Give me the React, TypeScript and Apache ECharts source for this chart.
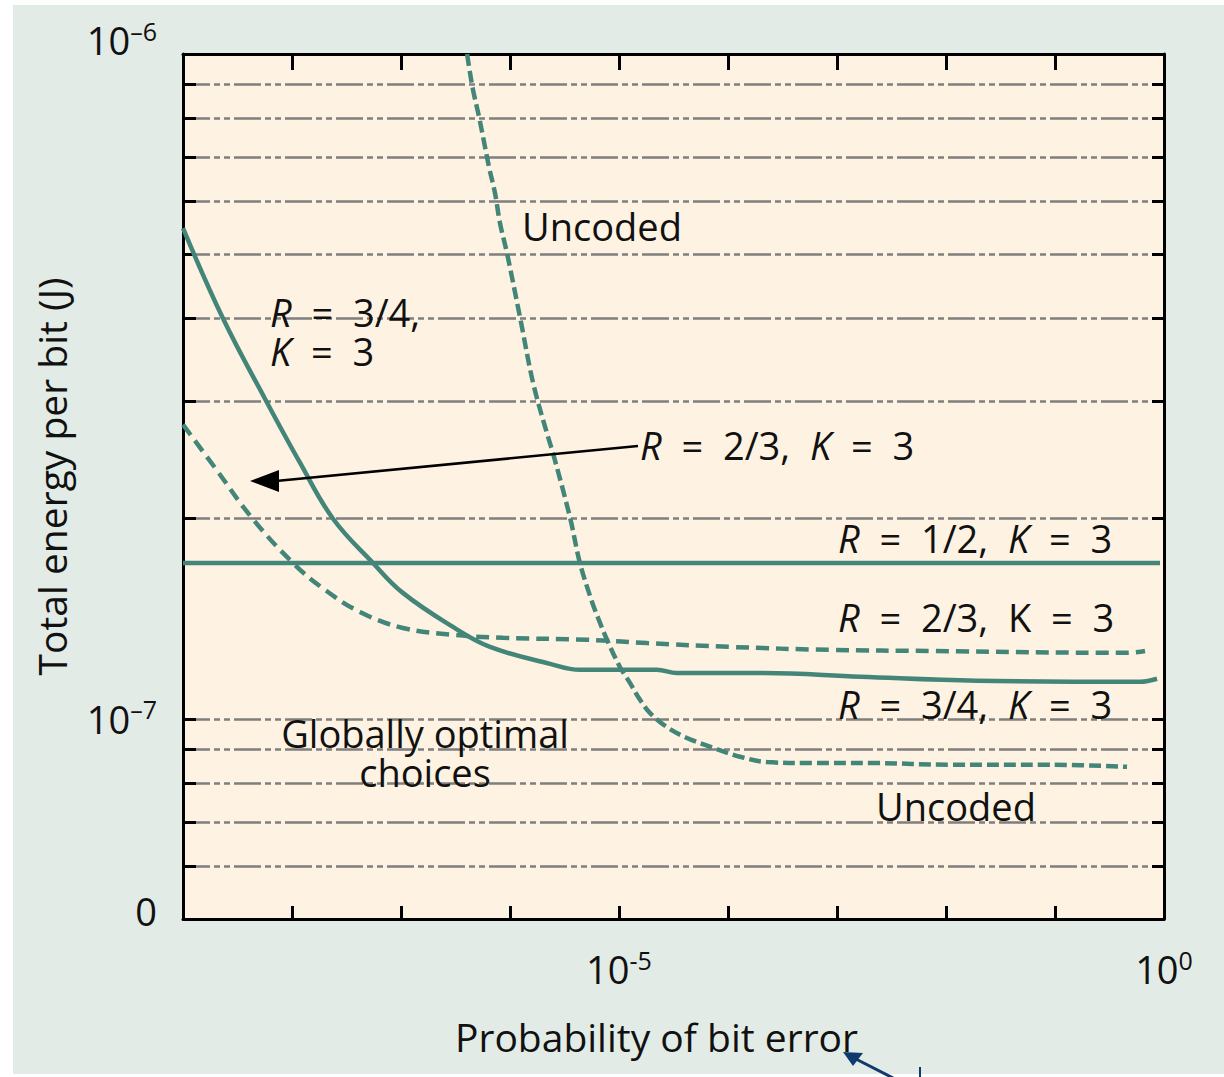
import React, { useEffect, useRef } from "react";
import * as echarts from "echarts";

// ---- data ----
const uncodedP = [4.04e-7, 4.3e-7, 4.58e-7, 5.2e-7, 5.9e-7, 6.42e-7, 7.28e-7, 8.09e-7, 9.38e-7, 1.235e-6, 1.63e-6, 2.18e-6, 2.48e-6, 3.55e-6, 4.38e-6, 5.65e-6, 6.41e-6, 7.76e-6, 1.02e-5, 1.26e-5, 1.56e-5, 1.92e-5, 2.75e-5, 4.2e-5, 7.3e-5, 1.29e-4, 2.28e-4, 6.0e-4, 2.14e-3, 1.09e-2, 9.0e-2, 0.458];
const uncodedE = [1.0e-6, 9.36e-7, 8.83e-7, 8.04e-7, 7.25e-7, 6.76e-7, 6.18e-7, 5.57e-7, 5.02e-7, 4.02e-7, 3.2e-7, 2.69e-7, 2.51e-7, 2.01e-7, 1.716e-7, 1.5e-7, 1.42e-7, 1.315e-7, 1.197e-7, 1.133e-7, 1.068e-7, 1.021e-7, 9.72e-8, 9.36e-8, 9.05e-8, 8.77e-8, 8.61e-8, 8.58e-8, 8.58e-8, 8.53e-8, 8.53e-8, 8.47e-8];

const r34P = [1e-9, 2.33e-9, 5.65e-9, 1.18e-8, 2.38e-8, 5.53e-8, 1.04e-7, 3.0e-7, 6.56e-7, 2.33e-6, 4.38e-6, 2.23e-5, 3.4e-5, 2.1e-4, 1.63e-3, 1.92e-2, 0.603, 0.863];
const r34E = [5.47e-7, 4.0e-7, 3.03e-7, 2.43e-7, 2.0e-7, 1.716e-7, 1.547e-7, 1.375e-7, 1.283e-7, 1.21e-7, 1.185e-7, 1.185e-7, 1.172e-7, 1.172e-7, 1.157e-7, 1.141e-7, 1.137e-7, 1.149e-7];

const r23P = [1e-9, 1.97e-9, 4.3e-9, 1.02e-8, 2.01e-8, 4.2e-8, 1.04e-7, 3.0e-7, 8.63e-7, 5.08e-6, 1.81e-5, 1.04e-4, 8.63e-4, 7.6e-3, 0.458, 0.67];
const r23E = [2.77e-7, 2.385e-7, 2.005e-7, 1.716e-7, 1.563e-7, 1.448e-7, 1.37e-7, 1.338e-7, 1.324e-7, 1.315e-7, 1.3e-7, 1.283e-7, 1.27e-7, 1.265e-7, 1.257e-7, 1.265e-7];

const r12P = [1e-9, 0.92];
const r12E = [1.716e-7, 1.716e-7];

const yGridValues = [6e-8, 7e-8, 8e-8, 9e-8, 1e-7, 2e-7, 3e-7, 4e-7, 5e-7, 6e-7, 7e-7, 8e-7, 9e-7];
const yLabelValues = [5e-8, 1e-7, 1e-6];
const xTickValues = [1e-8, 1e-7, 1e-6, 1e-5, 1e-4, 1e-3, 1e-2, 1e-1];
const xLabelValues = [1e-5, 1];

const FONT = "Open Sans";
const TEAL = "#44857a";

function near(a: number, b: number) {
  return Math.abs(a - b) / b < 0.02;
}

export default function App() {
  const ref = useRef<HTMLDivElement>(null);
  useEffect(() => {
    document.body.style.margin = "0";
    const chart = echarts.init(ref.current!, null, { renderer: "svg" });
    const pair = (p: number[], e: number[]) => p.map((v, i) => [v, e[i]]);
    const ital = { fontStyle: "italic", fontFamily: FONT, fontSize: 38, fill: "#111", lineHeight: 39 };
    const txt = (x: number, y: number, text: string, align = "left") => ({
      type: "text",
      x,
      y,
      style: {
        text,
        fontFamily: FONT,
        fontSize: 38,
        lineHeight: 39,
        fill: "#111",
        align,
        verticalAlign: "middle",
        rich: { i: ital },
      },
      z: 10,
    });
    const supRich = {
      b: { fontFamily: FONT, fontSize: 38, color: "#111", lineHeight: 44 },
      s: { fontFamily: FONT, fontSize: 25, color: "#111", lineHeight: 26, verticalAlign: "top" },
      e1: { fontSize: 10, lineHeight: 28 },
      e2: { fontSize: 10, lineHeight: 16 },
    };
    const option: any = {
      animation: false,
      backgroundColor: "#ffffff",
      textStyle: { fontFamily: FONT },
      grid: {
        left: 183,
        top: 54,
        right: 60,
        bottom: 158,
        show: true,
        backgroundColor: "#fef3e2",
        borderWidth: 0,
      },
      xAxis: [
        {
          type: "log",
          logBase: 10,
          min: 1e-9,
          max: 1,
          position: "bottom",
          name: "Probability of bit error",
          nameLocation: "middle",
          nameGap: 98,
          nameTextStyle: { fontFamily: FONT, fontSize: 39, color: "#111", padding: [0, 34, 0, 0] },
          axisLine: { show: true, lineStyle: { color: "#000", width: 3 } },
          axisTick: { show: true, inside: true, length: 13, customValues: xTickValues, lineStyle: { color: "#000", width: 3 } },
          axisLabel: {
            customValues: xLabelValues,
            margin: 28,
            formatter: (v: number) => (near(v, 1e-5) ? "{b|10}{s|-5}" : near(v, 1) ? "{b|10}{s|0}" : ""),
            rich: supRich,
          },
          splitLine: { show: false },
          minorTick: { show: false },
        },
        {
          type: "log",
          logBase: 10,
          min: 1e-9,
          max: 1,
          position: "top",
          axisLine: { show: true, lineStyle: { color: "#000", width: 3 } },
          axisTick: { show: true, inside: true, length: 16, customValues: xTickValues, lineStyle: { color: "#000", width: 3 } },
          axisLabel: { show: false },
          splitLine: { show: false },
        },
      ],
      yAxis: [
        {
          type: "log",
          logBase: 10,
          min: 5e-8,
          max: 1e-6,
          position: "left",
          name: "Total energy per bit (J)",
          nameLocation: "middle",
          nameGap: 112,
          nameRotate: 90,
          nameTextStyle: { fontFamily: FONT, fontSize: 39, color: "#111", padding: [0, 0, 0, 20] },
          axisLine: { show: true, lineStyle: { color: "#000", width: 3 } },
          axisTick: { show: true, inside: true, length: 13, customValues: yGridValues, lineStyle: { color: "#000", width: 3 } },
          axisLabel: {
            customValues: yLabelValues,
            margin: 26,
            formatter: (v: number) =>
              near(v, 1e-6)
                ? "{b|10}{s|–6}\n{e1| }"
                : near(v, 1e-7)
                ? "{b|10}{s|–7}"
                : near(v, 5e-8)
                ? "{b|0}\n{e2| }"
                : "",
            rich: supRich,
          },
          splitLine: { show: true, lineStyle: { color: "#7f7f7f", width: 2.5, type: [27, 4, 6, 4, 6, 4] } },
          minorTick: { show: false },
        },
        {
          type: "log",
          logBase: 10,
          min: 5e-8,
          max: 1e-6,
          position: "right",
          axisLine: { show: true, lineStyle: { color: "#000", width: 3 } },
          axisTick: { show: true, inside: true, length: 12, customValues: yGridValues, lineStyle: { color: "#000", width: 3 } },
          axisLabel: { show: false },
          splitLine: { show: false },
        },
      ],
      series: [
        {
          name: "Uncoded",
          type: "line",
          data: pair(uncodedP, uncodedE),
          showSymbol: false,
          smooth: 0.35,
          lineStyle: { color: TEAL, width: 4.5, type: [12, 5] },
          z: 3,
        },
        {
          name: "R = 3/4, K = 3",
          type: "line",
          data: pair(r34P, r34E),
          showSymbol: false,
          smooth: 0.4,
          lineStyle: { color: TEAL, width: 4.5 },
          z: 3,
        },
        {
          name: "R = 2/3, K = 3",
          type: "line",
          data: pair(r23P, r23E),
          showSymbol: false,
          smooth: 0.4,
          lineStyle: { color: TEAL, width: 4.5, type: [13, 7] },
          z: 3,
        },
        {
          name: "R = 1/2, K = 3",
          type: "line",
          data: pair(r12P, r12E),
          showSymbol: false,
          lineStyle: { color: TEAL, width: 4.5 },
          z: 3,
        },
      ],
      graphic: [
        { type: "rect", shape: { x: 13, y: 5, width: 1211, height: 1069 }, style: { fill: "#e2ebe6" }, z: -10, silent: true },
        txt(522, 226, "Uncoded"),
        txt(270, 331, "{i|R}  =  3/4,\n{i|K}  =  3"),
        txt(640, 445, "{i|R}  =  2/3,  {i|K}  =  3"),
        txt(838, 538, "{i|R}  =  1/2,  {i|K}  =  3"),
        txt(838, 617, "{i|R}  =  2/3,  K  =  3"),
        txt(838, 704, "{i|R}  =  3/4,  {i|K}  =  3"),
        txt(425, 752, "Globally optimal\nchoices", "center"),
        txt(876, 806, "Uncoded"),
        { type: "line", shape: { x1: 276, y1: 481, x2: 638, y2: 446 }, style: { stroke: "#000", lineWidth: 2.5 }, z: 10 },
        { type: "polygon", shape: { points: [[250, 481], [279, 470], [279, 492]] }, style: { fill: "#000" }, z: 10 },
        { type: "line", shape: { x1: 852, y1: 1057, x2: 897, y2: 1080 }, style: { stroke: "#103a6b", lineWidth: 3 }, z: 10 },
        { type: "polygon", shape: { points: [[843, 1052], [863, 1053], [853, 1066]] }, style: { fill: "#103a6b" }, z: 10 },
        { type: "line", shape: { x1: 920, y1: 1067, x2: 920, y2: 1077 }, style: { stroke: "#103a6b", lineWidth: 2 }, z: 10 },
      ],
    };
    chart.setOption(option);
    return () => chart.dispose();
  }, []);
  return <div ref={ref} style={{ width: 1224, height: 1077 }} />;
}
